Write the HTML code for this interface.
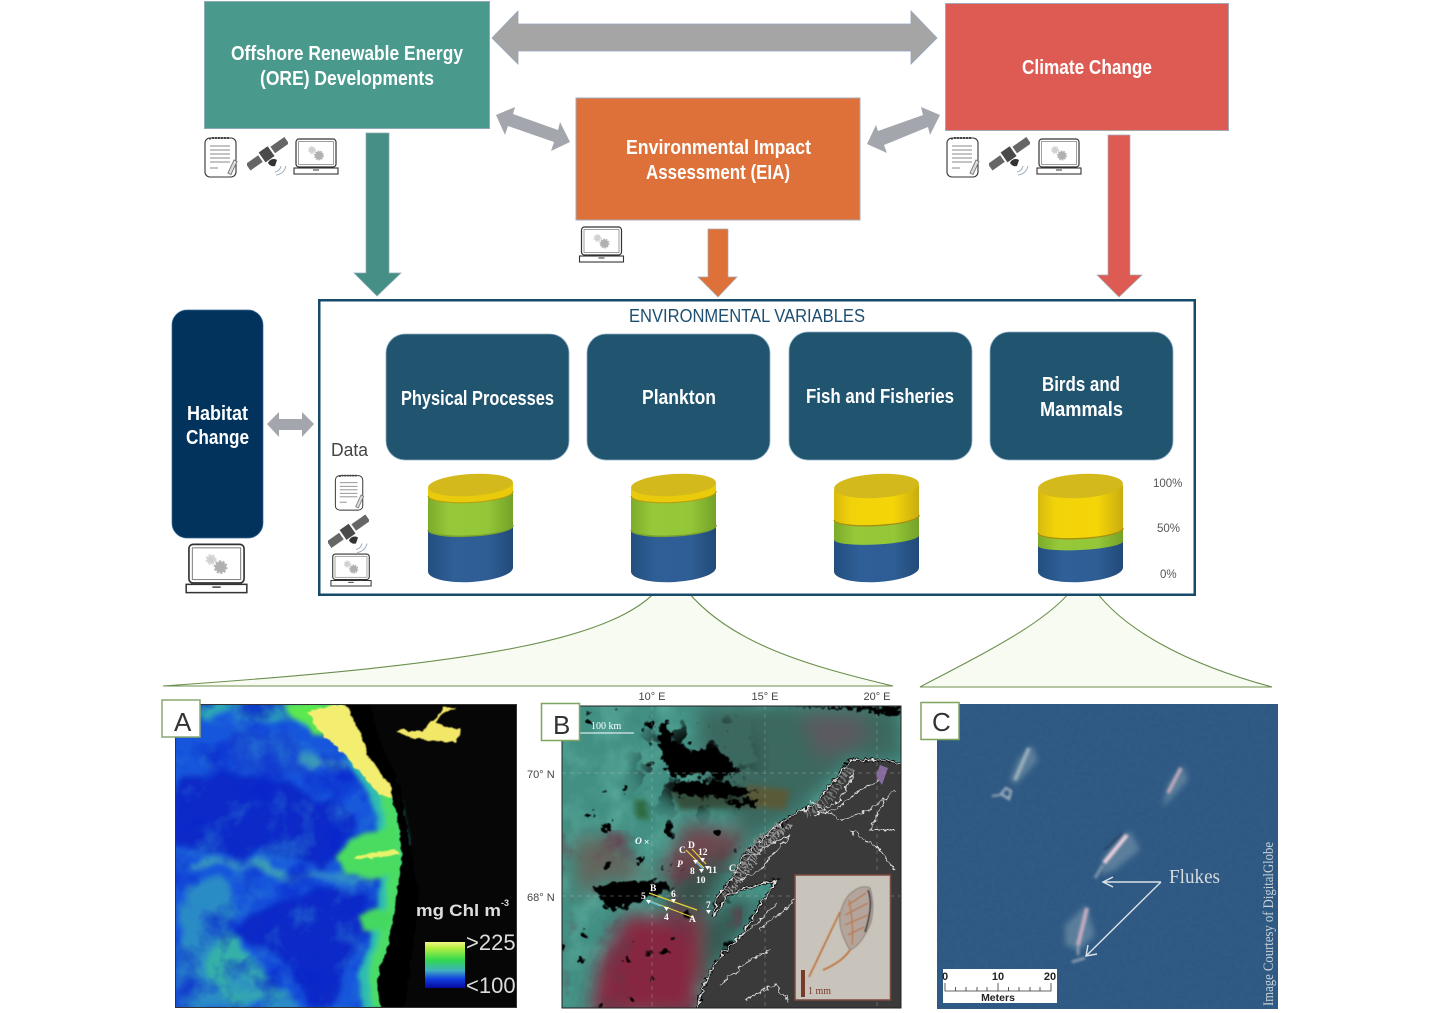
<!DOCTYPE html>
<html><head><meta charset="utf-8"><style>
html,body{margin:0;padding:0;background:#fff}
svg{display:block}
text{font-family:"Liberation Sans",sans-serif}
.w{fill:#fff;font-weight:bold;font-size:20px}
.s{font-family:"Liberation Serif",serif}
.m{fill:#fff;font-family:"Liberation Serif",serif;font-size:9.5px;font-weight:bold}
</style></head><body>
<svg width="1437" height="1013" viewBox="0 0 1437 1013" xmlns="http://www.w3.org/2000/svg">
<defs>
<filter id="b05" x="-10%" y="-10%" width="120%" height="120%"><feGaussianBlur stdDeviation=".5"/></filter>
<filter id="b1" x="-20%" y="-20%" width="140%" height="140%"><feGaussianBlur stdDeviation="1.300"/></filter>
<filter id="b3" x="-30%" y="-30%" width="160%" height="160%"><feGaussianBlur stdDeviation="3"/></filter>
<filter id="b6" x="-30%" y="-30%" width="160%" height="160%"><feGaussianBlur stdDeviation="9"/></filter>
<filter id="bm" x="-30%" y="-30%" width="160%" height="160%"><feGaussianBlur stdDeviation="14"/></filter>
<filter id="rA" x="-10%" y="-10%" width="120%" height="120%"><feTurbulence type="fractalNoise" baseFrequency="0.04" numOctaves="4" seed="3"/><feDisplacementMap in="SourceGraphic" scale="22" xChannelSelector="R" yChannelSelector="G"/><feGaussianBlur stdDeviation="3"/></filter>
<filter id="rG" x="-10%" y="-10%" width="120%" height="120%"><feTurbulence type="fractalNoise" baseFrequency="0.05" numOctaves="3" seed="8"/><feDisplacementMap in="SourceGraphic" scale="9" xChannelSelector="R" yChannelSelector="G"/><feGaussianBlur stdDeviation="2.500"/></filter>
<filter id="rE" x="-5%" y="-5%" width="110%" height="110%"><feTurbulence type="fractalNoise" baseFrequency="0.14" numOctaves="2" seed="7"/><feDisplacementMap in="SourceGraphic" scale="6" xChannelSelector="R" yChannelSelector="G"/><feGaussianBlur stdDeviation="0.4"/></filter>
<filter id="rB" x="-10%" y="-10%" width="120%" height="120%"><feTurbulence type="fractalNoise" baseFrequency="0.16" numOctaves="3" seed="11"/><feDisplacementMap in="SourceGraphic" scale="13" xChannelSelector="R" yChannelSelector="G"/><feGaussianBlur stdDeviation="0.4"/></filter>
<filter id="rC" x="-5%" y="-5%" width="110%" height="110%"><feTurbulence type="fractalNoise" baseFrequency="0.2" numOctaves="2" seed="5"/><feDisplacementMap in="SourceGraphic" scale="7" xChannelSelector="R" yChannelSelector="G"/><feGaussianBlur stdDeviation="0.3"/></filter>
<filter id="nA" x="0" y="0" width="100%" height="100%" color-interpolation-filters="sRGB"><feTurbulence type="fractalNoise" baseFrequency="0.03" numOctaves="4" seed="4"/><feColorMatrix values="0 0 0 0 .16  0 0 0 0 .5  0 0 0 0 .82  1.800 0 0 0 -.9"/></filter>
<filter id="nA2" x="0" y="0" width="100%" height="100%" color-interpolation-filters="sRGB"><feTurbulence type="fractalNoise" baseFrequency="0.025" numOctaves="4" seed="21"/><feColorMatrix values="0 0 0 0 .03  0 0 0 0 .14  0 0 0 0 .8  2 0 0 0 -.9"/></filter>
<filter id="nB" x="0" y="0" width="100%" height="100%" color-interpolation-filters="sRGB"><feTurbulence type="fractalNoise" baseFrequency="0.035" numOctaves="4" seed="9"/><feColorMatrix values="0 0 0 0 .34  0 0 0 0 .66  0 0 0 0 .6  2 0 0 0 -.85"/></filter>
<filter id="nB2" x="0" y="0" width="100%" height="100%" color-interpolation-filters="sRGB"><feTurbulence type="fractalNoise" baseFrequency="0.03" numOctaves="4" seed="14"/><feColorMatrix values="0 0 0 0 .42  0 0 0 0 .2  0 0 0 0 .28  2 0 0 0 -1.050"/></filter>
<filter id="kB" x="0" y="0" width="100%" height="100%" color-interpolation-filters="sRGB"><feTurbulence type="fractalNoise" baseFrequency="0.05" numOctaves="3" seed="31"/><feColorMatrix values="0 0 0 0 0  0 0 0 0 0  0 0 0 0 0  14 0 0 0 -10.200"/></filter>
<filter id="kB2" x="0" y="0" width="100%" height="100%" color-interpolation-filters="sRGB"><feTurbulence type="fractalNoise" baseFrequency="0.04" numOctaves="3" seed="32"/><feColorMatrix values="0 0 0 0 0  0 0 0 0 0  0 0 0 0 0  14 0 0 0 -7.400"/></filter>
<filter id="nC" x="0" y="0" width="100%" height="100%" color-interpolation-filters="sRGB"><feTurbulence type="fractalNoise" baseFrequency="0.25" numOctaves="2" seed="2"/><feColorMatrix values="0 0 0 0 .17  0 0 0 0 .33  0 0 0 0 .5  1 0 0 0 -.3"/></filter>
<mask id="mk" maskUnits="userSpaceOnUse" x="560" y="700" width="345" height="310"><ellipse cx="695" cy="762" rx="48" ry="42" fill="#fff" filter="url(#bm)"/></mask>
<clipPath id="cA"><rect x="175" y="704" width="342" height="304"/></clipPath>
<clipPath id="sA"><polygon points="175,704 342,704 352,722 360,752 398,785 412,880 402,1008 175,1008"/></clipPath>
<clipPath id="cB"><rect x="562" y="706" width="339" height="302"/></clipPath>
<clipPath id="cC"><rect x="937" y="704" width="341" height="305"/></clipPath>
<linearGradient id="gy" x1="0" x2="1" y1="0" y2="0"><stop offset="0" stop-color="#d8b90f"/><stop offset=".2" stop-color="#f2d30a"/><stop offset=".7" stop-color="#f4d508"/><stop offset="1" stop-color="#c9ac10"/></linearGradient>
<linearGradient id="gg" x1="0" x2="1" y1="0" y2="0"><stop offset="0" stop-color="#7cab2a"/><stop offset=".25" stop-color="#96c93a"/><stop offset=".7" stop-color="#94c738"/><stop offset="1" stop-color="#74a228"/></linearGradient>
<linearGradient id="gb" x1="0" x2="1" y1="0" y2="0"><stop offset="0" stop-color="#234f80"/><stop offset=".3" stop-color="#2f5f97"/><stop offset=".7" stop-color="#2f5e95"/><stop offset="1" stop-color="#214a78"/></linearGradient>
<linearGradient id="leg" x1="0" x2="0" y1="0" y2="1"><stop offset="0" stop-color="#f6f48a"/><stop offset=".12" stop-color="#b8f040"/><stop offset=".4" stop-color="#30d850"/><stop offset=".62" stop-color="#40b0c0"/><stop offset=".8" stop-color="#1040e0"/><stop offset="1" stop-color="#0808a0"/></linearGradient>
<symbol id="note" viewBox="0 0 34 43">
<rect x="1" y="3" width="31" height="39" rx="5" fill="#fff" stroke="#333" stroke-width="1.100"/>
<path d="M5 3.500h2M8 3h2M11 3h2M14 3h2M17 3h2M20 3h2M23 3h2" stroke="#444" stroke-width="2"/>
<path d="M6 11h20M6 15h20M6 19h20M6 23h20M6 27h20M6 33h8" stroke="#888" stroke-width="1"/>
<path d="M24 38l6-13 3 1.500-6 13z" fill="#ddd" stroke="#777" stroke-width=".9"/>
</symbol>
<symbol id="sat" viewBox="0 0 41 40">
<g transform="rotate(-35 20 17)"><rect x="-3" y="13" width="15" height="8" fill="#666"/><rect x="27" y="13" width="17" height="8" fill="#666"/><rect x="14" y="11" width="11" height="12" fill="#4a4a4a"/></g>
<path d="M21 26a6 6 0 0 1 9 -3l-2 6a6 6 0 0 1-7-3z" fill="#333"/>
<path d="M28 35q5-1 6-6M29 38q8-1 10-9" stroke="#9ab" fill="none" stroke-width=".9"/>
</symbol>
<symbol id="lap" viewBox="0 0 46 37">
<rect x="3" y="1" width="40" height="28" rx="3" fill="#fff" stroke="#333" stroke-width="1.200"/>
<rect x="5.500" y="3.500" width="35" height="23" fill="#fff" stroke="#888" stroke-width=".8"/>
<rect x="1" y="30" width="44" height="6" fill="#fff" stroke="#333" stroke-width="1.100"/>
<rect x="20" y="31.500" width="6" height="1" fill="#333"/>
<circle cx="19" cy="12" r="3" fill="#d0d0d0" stroke="#d8d8d8" stroke-width="2" stroke-dasharray="1.500 1"/>
<circle cx="26" cy="17.500" r="4" fill="#b0b0b0" stroke="#b4b4b4" stroke-width="2" stroke-dasharray="1.500 1"/>
</symbol>
</defs>

<!-- callouts -->
<path d="M663 583C622 640 480 664 163 686H893C800 664 722 640 681 583Z" fill="#f8fbf2" stroke="#6b8f4c" stroke-width="1.100"/>
<path d="M1077 583C1052 620 990 650 920 687H1272C1190 665 1120 630 1090 583Z" fill="#f8fbf2" stroke="#6b8f4c" stroke-width="1.100"/>

<!-- top boxes -->
<rect x="204.500" y="1.500" width="285" height="127" fill="#4a998d" stroke="#8ea9b5"/>
<rect x="945.500" y="3.500" width="283" height="127" fill="#dd5b53" stroke="#a6a9b5"/>
<rect x="576" y="98" width="284" height="122" fill="#dd7139" stroke="#a6a9b5"/>
<text class="w" x="231" y="60" textLength="232" lengthAdjust="spacingAndGlyphs">Offshore Renewable Energy</text>
<text class="w" x="260" y="85" textLength="174" lengthAdjust="spacingAndGlyphs">(ORE) Developments</text>
<text class="w" x="1022" y="74" textLength="130" lengthAdjust="spacingAndGlyphs">Climate Change</text>
<text class="w" x="626" y="154" textLength="185" lengthAdjust="spacingAndGlyphs">Environmental Impact</text>
<text class="w" x="646" y="179" textLength="144" lengthAdjust="spacingAndGlyphs">Assessment (EIA)</text>

<!-- arrows -->
<polygon points="492,38 518,11 518,24 911,24 911,11 937,38 911,64 911,51 518,51 518,64" fill="#a5a5a5" stroke="#93a5bd" stroke-width=".8"/>
<polygon points="496,115 515,107 513,114 558,130 560,122 570,142 551,151 554,142 508,126 505,135" fill="#a3a6ac"/>
<polygon points="940,115 921,107 923,115 878,131 876,125 867,144 887,153 884,145 928,127 930,135" fill="#a3a6ac"/>
<polygon points="366,133 389,133 389,273 401,273 377,296 354,273 366,273" fill="#468f86" stroke="#8ea9b5" stroke-width=".7"/>
<polygon points="708,229 728,229 728,277 737,277 718,297 698,277 708,277" fill="#dd7139" stroke="#a6a9b5" stroke-width=".7"/>
<polygon points="1108,135 1130,135 1130,275 1142,275 1119,297 1097,275 1108,275" fill="#dd5b53" stroke="#a6a9b5" stroke-width=".7"/>
<polygon points="267,424 279,412 279,419 302,419 302,412 314,424 302,437 302,430 279,430 279,437" fill="#a3a6ac"/>

<!-- icons -->
<use href="#note" x="204" y="135" width="34" height="43"/>
<use href="#sat" x="247" y="137" width="41" height="40"/>
<use href="#lap" x="293" y="138" width="46" height="37"/>
<use href="#note" x="946" y="135" width="34" height="43"/>
<use href="#sat" x="989" y="137" width="41" height="40"/>
<use href="#lap" x="1036" y="138" width="46" height="37"/>
<use href="#lap" x="578" y="226" width="47" height="37"/>

<!-- habitat -->
<rect x="172" y="310" width="91" height="228" rx="15" fill="#02335c" stroke="#3a6a95" stroke-width=".7"/>
<text class="w" x="187" y="420" textLength="61" lengthAdjust="spacingAndGlyphs">Habitat</text>
<text class="w" x="186" y="444" textLength="63" lengthAdjust="spacingAndGlyphs">Change</text>
<use href="#lap" x="183" y="543" width="67" height="51"/>

<!-- env box -->
<rect x="319.250" y="300.250" width="875.500" height="294.500" fill="#fff" stroke="#17496b" stroke-width="2.500"/>
<text x="629" y="322" font-size="18" fill="#1e4f70" textLength="236" lengthAdjust="spacingAndGlyphs">ENVIRONMENTAL VARIABLES</text>
<rect x="386" y="334" width="183" height="126" rx="19" fill="#20546f" stroke="#8fb0c6" stroke-width=".8"/>
<rect x="587" y="334" width="183" height="126" rx="19" fill="#20546f" stroke="#8fb0c6" stroke-width=".8"/>
<rect x="789" y="332" width="183" height="128" rx="19" fill="#20546f" stroke="#8fb0c6" stroke-width=".8"/>
<rect x="990" y="332" width="183" height="128" rx="19" fill="#20546f" stroke="#8fb0c6" stroke-width=".8"/>
<text class="w" x="401" y="405" textLength="153" lengthAdjust="spacingAndGlyphs">Physical Processes</text>
<text class="w" x="642" y="404" textLength="74" lengthAdjust="spacingAndGlyphs">Plankton</text>
<text class="w" x="806" y="403" textLength="148" lengthAdjust="spacingAndGlyphs">Fish and Fisheries</text>
<text class="w" x="1042" y="391" textLength="78" lengthAdjust="spacingAndGlyphs">Birds and</text>
<text class="w" x="1040" y="416" textLength="83" lengthAdjust="spacingAndGlyphs">Mammals</text>
<text x="331" y="456" font-size="18" fill="#444" textLength="37" lengthAdjust="spacingAndGlyphs">Data</text>
<use href="#note" x="334" y="473" width="31" height="38"/>
<use href="#sat" x="328" y="514" width="41" height="41"/>
<use href="#lap" x="330" y="553" width="42" height="34"/>
<text x="1153" y="487" font-size="11.500" fill="#555">100%</text>
<text x="1157" y="532" font-size="11.500" fill="#555">50%</text>
<text x="1160" y="578" font-size="11.500" fill="#555">0%</text>

<!-- cylinders -->
<g transform="translate(470.500 0)">
<path d="M-42.500 525V572A42.500 12.500 -3 0 0 42.500 567V520Z" fill="url(#gb)"/>
<path d="M-42.500 495V530A42.500 8.500 -3 0 0 42.500 525V490Z" fill="url(#gg)"/>
<path d="M-42.500 530A42.500 8.500 -3 0 0 42.500 525" fill="none" stroke="#7ba22d" stroke-width="1.500"/>
<path d="M-42.500 488V496A42.500 9 -3 0 0 42.500 491V483Z" fill="#e9cb0c"/>
<path d="M-42.500 496A42.500 9 -3 0 0 42.500 491" fill="none" stroke="#b69f12" stroke-width="1.200"/>
<ellipse cx="0" cy="485" rx="42.500" ry="11" fill="#d4b91c" transform="rotate(-3.500 0 485)"/>
</g>
<g transform="translate(673.500 0)">
<path d="M-42.500 525V572A42.500 12.500 -3 0 0 42.500 567V520Z" fill="url(#gb)"/>
<path d="M-42.500 495V530A42.500 8.500 -3 0 0 42.500 525V490Z" fill="url(#gg)"/>
<path d="M-42.500 530A42.500 8.500 -3 0 0 42.500 525" fill="none" stroke="#7ba22d" stroke-width="1.500"/>
<path d="M-42.500 488V496A42.500 9 -3 0 0 42.500 491V483Z" fill="#e9cb0c"/>
<path d="M-42.500 496A42.500 9 -3 0 0 42.500 491" fill="none" stroke="#b69f12" stroke-width="1.200"/>
<ellipse cx="0" cy="485" rx="42.500" ry="11" fill="#d4b91c" transform="rotate(-3.500 0 485)"/>
</g>
<g transform="translate(876.500 0)">
<path d="M-42.500 530V572A42.500 12.500 -3 0 0 42.500 567V525Z" fill="url(#gb)"/>
<path d="M-42.500 515V540A42.500 7 -3 0 0 42.500 535V510Z" fill="url(#gg)"/>
<path d="M-42.500 490V520A42.500 8 -3 0 0 42.500 515V485Z" fill="url(#gy)"/>
<path d="M-42.500 520A42.500 8 -3 0 0 42.500 515" fill="none" stroke="#a68f10" stroke-width="1.300"/>
<ellipse cx="0" cy="486" rx="42.500" ry="12" fill="#d4b91c" transform="rotate(-3.500 0 486)"/>
</g>
<g transform="translate(1080.500 0)">
<path d="M-42.500 535V572A42.500 12.500 -3 0 0 42.500 567V530Z" fill="url(#gb)"/>
<path d="M-42.500 525V546A42.500 6.500 -3 0 0 42.500 541V520Z" fill="url(#gg)"/>
<path d="M-42.500 490V533A42.500 8 -3 0 0 42.500 528V485Z" fill="url(#gy)"/>
<path d="M-42.500 533A42.500 8 -3 0 0 42.500 528" fill="none" stroke="#a68f10" stroke-width="1.300"/>
<ellipse cx="0" cy="486" rx="42.500" ry="12" fill="#d4b91c" transform="rotate(-3.500 0 486)"/>
</g>

<!-- PANEL A -->
<g clip-path="url(#cA)">
<rect x="175" y="704" width="342" height="304" fill="#060606"/>
<g filter="url(#rA)">
<polygon points="160,695 333,695 353,723 360,753 387,780 398,820 402,853 398,887 393,920 387,947 377,980 380,1020 160,1020" fill="#1857dc"/>
<polygon points="190,700 330,700 315,722 290,722 250,716 205,716" fill="#2ea8b4"/>
<polygon points="170,785 230,768 290,788 340,808 358,825 345,850 320,870 290,860 240,855 200,850 170,845" fill="#0a2bc8"/>
<polygon points="228,935 250,910 290,900 330,890 365,885 372,920 350,955 335,990 330,1010 310,1005 280,960" fill="#0a2bc8"/>
<polygon points="182,885 222,875 238,905 225,935 280,985 300,1010 180,1010" fill="#2b8cc4"/>
<polygon points="225,925 250,960 285,995 235,1005 205,970" fill="#35b0a8"/>
<polygon points="230,740 290,735 320,770 270,780 235,765" fill="#1548d2"/>
<polyline points="187,873 217,858 247,862 293,880 327,877 373,880" fill="none" stroke="#3fa8ac" stroke-width="5"/>
<polyline points="300,755 330,770 345,760" fill="none" stroke="#3fa0b0" stroke-width="7"/>
</g>
<g clip-path="url(#sA)">
<rect x="175" y="704" width="240" height="304" filter="url(#nA)"/>
<rect x="175" y="704" width="240" height="304" filter="url(#nA2)"/>
</g>
<g filter="url(#rG)">
<polyline points="330,700 350,730 362,760 382,790 392,825 397,853 393,887 388,920 382,947 372,980 375,1010" fill="none" stroke="#2fbcb0" stroke-width="26"/>
<polyline points="325,703 350,735 365,762 387,795 394,825 398,853 395,887 390,920 384,947 375,980 378,1010" fill="none" stroke="#4cdc68" stroke-width="14"/>
<polygon points="285,703 335,703 345,730 312,735" fill="#5ce850"/>
<polygon points="337,858 350,838 395,825 400,875 380,878 345,875" fill="#48dc60"/>
<polygon points="358,915 372,908 392,912 390,930 365,930" fill="#45d860"/>
</g>
<g filter="url(#rE)">
<polygon points="308,712 333,705 352,705 362,735 376,755 396,780 400,800 380,795 345,755 318,730" fill="#f4ee70"/>
<polygon points="353,857 395,849 399,855 360,859" fill="#e8f26a"/>
<polygon points="395,730 423,730 437,717 443,707 457,708 443,713 437,723 460,730 457,742 427,740 410,738" fill="#f2e766"/>
<polygon points="343,700 370,700 376,730 400,785 420,900 404,1010 380,1010 377,980 387,947 393,920 398,887 402,853 398,820 389,785 368,755 356,725" fill="#060606"/>
</g>
<text x="416" y="916" font-size="16.500" font-weight="bold" fill="#ddd" textLength="85" lengthAdjust="spacingAndGlyphs">mg Chl m</text>
<text x="501" y="906" font-size="9" font-weight="bold" fill="#ddd">-3</text>
<rect x="425" y="942" width="40" height="46" fill="url(#leg)"/>
<text x="466" y="950" font-size="22" fill="#ddd">&gt;225</text>
<text x="466" y="993" font-size="22" fill="#ddd">&lt;100</text>
</g>
<rect x="175.500" y="704.500" width="341" height="303" fill="none" stroke="#333"/>
<rect x="162" y="700" width="38" height="37" fill="#fff" stroke="#8aa870" stroke-width="1.500"/>
<text x="174" y="731" font-size="26" fill="#333">A</text>

<!-- PANEL B -->
<text x="652" y="700" font-size="11" fill="#444" text-anchor="middle">10° E</text>
<text x="765" y="700" font-size="11" fill="#444" text-anchor="middle">15° E</text>
<text x="877" y="700" font-size="11" fill="#444" text-anchor="middle">20° E</text>
<text x="527" y="778" font-size="11" fill="#444">70° N</text>
<text x="527" y="901" font-size="11" fill="#444">68° N</text>
<g clip-path="url(#cB)">
<rect x="562" y="706" width="339" height="302" fill="#428f83"/>
<rect x="562" y="706" width="339" height="302" filter="url(#nB)"/>
<g filter="url(#b6)">
<polygon points="700,706 901,706 901,760 850,760 800,810 750,840 720,800 700,770" fill="#3a685e"/>
<polygon points="800,715 860,715 870,740 820,760" fill="#5c5a60"/>
<polygon points="573,840 610,835 650,880 600,880 580,900" fill="#63655c"/>
<polygon points="657,880 687,823 743,833 737,860 697,880" fill="#6e4650"/>
<polygon points="680,875 745,842 720,880 700,920 660,905" fill="#374f4a"/>
<polygon points="625,915 737,920 697,980 697,1015 590,1015 600,960 615,940" fill="#87263f"/>
<polygon points="700,925 740,895 760,900 730,950 700,990" fill="#345a54"/>
</g>
<rect x="562" y="830" width="180" height="178" filter="url(#nB2)"/>
<g filter="url(#b3)">
<polygon points="665,785 760,795 765,807 680,810" fill="#35503c"/>
<polygon points="745,785 790,790 785,810 750,806" fill="#5a5a38"/>
<polygon points="634,800 645,800 650,820 636,818" fill="#2e6a40"/>
</g>
<rect x="562" y="706" width="190" height="302" filter="url(#kB)"/>
<g mask="url(#mk)"><rect x="620" y="706" width="150" height="120" filter="url(#kB2)"/></g>
<g filter="url(#rB)" fill="#050505">
<polygon points="658,725 665,720 672,738 690,752 717,747 730,760 738,772 720,778 703,772 675,778 665,765 660,747"/>
<polygon points="672,782 715,780 755,792 725,798 680,796"/>
<polygon points="592,886 653,880 675,887 650,898 612,910 602,900"/>
<polygon points="790,706 901,706 901,714 880,714 860,710"/>
<polygon points="722,800 762,799 758,805 735,806"/>
<circle cx="590" cy="815" r="3"/><circle cx="607" cy="828" r="4"/><circle cx="625" cy="790" r="3"/>
<circle cx="640" cy="860" r="3"/><circle cx="580" cy="960" r="3"/><circle cx="628" cy="960" r="3"/>
</g>
<polygon points="901,763 877,760 850,760 837,777 817,803 790,817 763,837 743,857 733,877 717,897 713,917 730,893 777,880 763,900 743,933 717,960 703,987 697,1008 901,1008" fill="#3a3a3a"/>
<g filter="url(#rC)" fill="none" stroke="#e0e0e0" stroke-width="1">
<polyline points="901,763 877,760 850,760 837,777 817,803 790,817 763,837 743,857 733,877 717,897 713,917 730,893 777,880 763,900 743,933 717,960 703,987 697,1008" stroke="#000" stroke-width="3"/>
<polyline points="901,763 877,760 850,760 837,777 817,803 790,817 763,837 743,857 733,877 717,897 713,917 730,893 777,880 763,900 743,933 717,960 703,987 697,1008" stroke-width="1.300"/>
<polyline points="780,826 757,842 742,866 735,880" stroke-width="9" stroke-dasharray="1.500 2" stroke="#8a8a8a"/>
<polyline points="850,768 828,800 805,815" stroke-width="8" stroke-dasharray="1.500 2.500" stroke="#7a7a7a"/>
<polyline points="790,825 760,850 745,875 722,898" stroke-width="6" stroke-dasharray="1.500 2" stroke="#969696"/>
<polyline points="855,770 840,800 815,815 835,810 860,790 880,780"/>
<polyline points="745,860 770,845 790,835 760,870 740,880"/>
<polyline points="850,830 880,850 895,870"/>
<polyline points="760,930 790,905 800,890"/>
<polyline points="720,985 750,960 770,950"/>
<polyline points="810,800 840,820 870,810 895,790"/>
<polyline points="735,940 755,925 775,905"/>
<polyline points="745,1000 775,985 790,1003"/>
<polyline points="885,800 870,830 895,830"/>
</g>
<path d="M652 706V1008M765 706V1008M877 706V1008M562 773H901M562 896H901" stroke="#bbb" stroke-width=".7" stroke-dasharray="4 4" opacity=".5" fill="none"/>
<polygon points="880,765 888,768 882,785 876,776" fill="#9a78b8" opacity=".8"/>
<path d="M649 893L697 910M647 900L692 917M686 850L704 868M692 849L706 864" stroke="#e4d23a" stroke-width="1.200" fill="none"/>
<path d="M648 901L661 906M695 861L703 869" stroke="#66bbdd" stroke-width="1.500" fill="none"/>
<g fill="#fff"><path d="M646 900h5l-2.500 4zM664 907h5l-2.500 4zM671 899h5l-2.500 4zM706 910h5l-2.500 4zM693 860h5l-2.500 4zM700 858h5l-2.500 4zM705 866h5l-2.500 4zM699 869h5l-2.500 4z"/></g>
<text class="m" x="650" y="891">B</text><text class="m" x="671" y="897">6</text>
<text class="m" x="641" y="899">5</text><text class="m" x="664" y="920">4</text>
<text class="m" x="689" y="922">A</text><text class="m" x="706" y="908">7</text>
<text class="m" x="679" y="853">C</text><text class="m" x="688" y="848">D</text>
<text class="m" x="698" y="855">12</text><text class="m" x="708" y="873">11</text>
<text class="m" x="690" y="874">8</text><text class="m" x="696" y="883">10</text>
<text class="m" x="677" y="867" font-style="italic">P</text>
<text class="m" x="635" y="844" font-size="11" font-style="italic">O</text>
<text class="m" x="644" y="845" font-size="9">×</text>
<text class="m" x="729" y="871" font-style="italic">C</text>
<rect x="795" y="875" width="95.500" height="125" fill="#c8c3bb" stroke="#7a4a3e" stroke-width="1.500"/>
<g filter="url(#b05)">
<path d="M851 893Q862 884 870 888Q875 905 871 922Q862 945 850 950Q838 930 840 915Q843 900 851 893Z" fill="#b3a59b" stroke="#8e8072" stroke-width="1"/>
<path d="M848 905L866 893M845 915L868 903M845 925L868 915M848 935L864 927" stroke="#b8703f" stroke-width="1.200" fill="none"/>
<path d="M849 900Q854 925 852 945" stroke="#c07a45" stroke-width="1.400" fill="none"/>
<path d="M868 890Q874 905 865 932" stroke="#3f3d44" stroke-width="1.800" fill="none"/>
<path d="M840 912L809 977" stroke="#c07a45" stroke-width="1.800" fill="none"/>
<path d="M850 950Q842 962 823 970" stroke="#c07a45" stroke-width="2" fill="none"/>
</g>
<rect x="801" y="970" width="4" height="27" fill="#7a3a2a"/>
<text class="s" x="808" y="994" font-size="10" fill="#7a3a2a">1 mm</text>
<text class="s" x="591" y="729" font-size="10" fill="#fff">100 km</text>
<rect x="580" y="732.500" width="54" height="1" fill="#fff"/>
</g>
<rect x="562" y="706" width="339" height="302" fill="none" stroke="#222" stroke-width="1"/>
<rect x="541.500" y="703.500" width="38" height="37" fill="#fff" stroke="#7ea45f" stroke-width="1.500"/>
<text x="553" y="734" font-size="26" fill="#333">B</text>

<!-- PANEL C -->
<g clip-path="url(#cC)">
<rect x="937" y="704" width="341" height="305" fill="#305b85"/>
<rect x="937" y="704" width="341" height="305" filter="url(#nC)"/>
<g filter="url(#b3)" fill="#7f9cae" opacity=".55">
<polygon points="1032,745 1038,760 1025,775 1015,785 1010,780 1018,760"/>
<polygon points="1183,765 1188,780 1172,798 1162,808 1168,785"/>
<polygon points="1130,830 1140,850 1115,870 1100,875 1105,855"/>
<polygon points="1086,905 1095,935 1080,950 1065,945 1065,925"/>
</g>
<g filter="url(#b1)">
<path d="M1029 748L1015 780" stroke="#98adba" stroke-width="4"/>
<path d="M1006 788L1001 794 1009 799 1011 791 Z" fill="none" stroke="#b5bfc6" stroke-width="2"/>
<path d="M1000 795L992 796" stroke="#9eabb6" stroke-width="2"/>
<path d="M1181 768L1168 793" stroke="#c5abbc" stroke-width="3.500"/>
<path d="M1127 835L1104 863" stroke="#efd3de" stroke-width="4"/>
<path d="M1123 833L1105 850" stroke="#1b2940" stroke-width="1.200"/>
<path d="M1103 865L1095 878" stroke="#7f96a8" stroke-width="3"/>
<path d="M1087 908L1078 945" stroke="#c8aec4" stroke-width="4"/>
<path d="M1078 945L1078 955M1072 962L1085 958" stroke="#94a2b2" stroke-width="2.500"/>
</g>
<g stroke="#dce2e4" stroke-width="1.400" fill="none">
<path d="M1161 882H1103M1113 877L1103 882L1113 887"/>
<path d="M1161 882L1086 956M1088 945L1086 956L1097 954"/>
</g>
<text class="s" x="1169" y="883" font-size="20" fill="#d4dbde" textLength="51" lengthAdjust="spacingAndGlyphs">Flukes</text>
<text class="s" x="0" y="0" font-size="15" fill="#c8d2d8" textLength="164" lengthAdjust="spacingAndGlyphs" transform="translate(1273 1006) rotate(-90)">Image Courtesy of DigitalGlobe</text>
<rect x="943" y="969" width="114" height="34" fill="#fff"/>
<text x="945" y="980" font-size="11" font-weight="bold" fill="#222" text-anchor="middle">0</text>
<text x="998" y="980" font-size="11" font-weight="bold" fill="#222" text-anchor="middle">10</text>
<text x="1050" y="980" font-size="11" font-weight="bold" fill="#222" text-anchor="middle">20</text>
<path d="M945 983V991H1051V983M998 983V991M955.500 987V991M966 987V991M977 987V991M987 987V991M1008.500 987V991M1019 987V991M1030 987V991M1040 987V991" stroke="#333" stroke-width=".8" fill="none"/>
<text x="998" y="1001" font-size="10.500" font-weight="bold" fill="#222" text-anchor="middle">Meters</text>
</g>
<rect x="921" y="702.500" width="38" height="37" fill="#fff" stroke="#7ea45f" stroke-width="1.500"/>
<text x="932" y="731" font-size="26" fill="#333">C</text>
</svg>
</body></html>
